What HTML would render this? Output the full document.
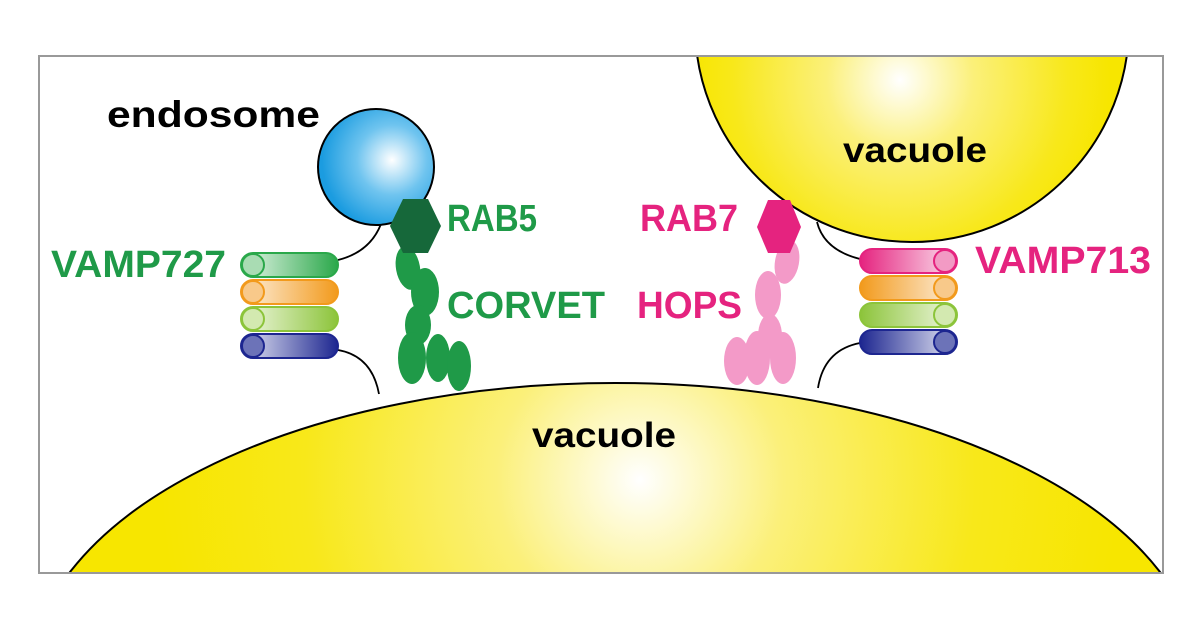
<!DOCTYPE html>
<html><head><meta charset="utf-8"><style>
html,body{margin:0;padding:0;background:#fff;width:1200px;height:630px;overflow:hidden;}
svg{display:block;}
text{font-family:"Liberation Sans",sans-serif;font-weight:bold;}
</style></head><body>
<svg width="1200" height="630" viewBox="0 0 1200 630">
<defs>
<radialGradient id="yb" cx="640" cy="480" r="480" gradientUnits="userSpaceOnUse">
<stop offset="0" stop-color="#ffffff"/><stop offset="0.3" stop-color="#fbf07a"/><stop offset="0.7" stop-color="#f8e81a"/><stop offset="1" stop-color="#f7e600"/></radialGradient>
<radialGradient id="yt" cx="900" cy="80" r="210" gradientUnits="userSpaceOnUse">
<stop offset="0" stop-color="#ffffff"/><stop offset="0.35" stop-color="#fbf07a"/><stop offset="0.8" stop-color="#f8e81a"/><stop offset="1" stop-color="#f7e600"/></radialGradient>
<radialGradient id="bl" cx="392" cy="160" r="70" gradientUnits="userSpaceOnUse">
<stop offset="0" stop-color="#ffffff"/><stop offset="0.5" stop-color="#6fc4ef"/><stop offset="1" stop-color="#1b9ce0"/></radialGradient>
<clipPath id="fr"><rect x="39" y="56" width="1124" height="517"/></clipPath>
<linearGradient id="gG" x1="0" x2="1"><stop offset="0" stop-color="#e8f6ea"/><stop offset="1" stop-color="#2aa84a"/></linearGradient>
<linearGradient id="gO" x1="0" x2="1"><stop offset="0" stop-color="#fdf0df"/><stop offset="1" stop-color="#f29a1c"/></linearGradient>
<linearGradient id="gL" x1="0" x2="1"><stop offset="0" stop-color="#f1f8e4"/><stop offset="1" stop-color="#8cc43a"/></linearGradient>
<linearGradient id="gN" x1="0" x2="1"><stop offset="0" stop-color="#e6e8f5"/><stop offset="1" stop-color="#1d2690"/></linearGradient>
<linearGradient id="gP" x1="1" x2="0"><stop offset="0" stop-color="#fbe3ef"/><stop offset="1" stop-color="#e5237f"/></linearGradient>
<linearGradient id="rO" x1="1" x2="0"><stop offset="0" stop-color="#fdf0df"/><stop offset="1" stop-color="#f29a1c"/></linearGradient>
<linearGradient id="rL" x1="1" x2="0"><stop offset="0" stop-color="#f1f8e4"/><stop offset="1" stop-color="#8cc43a"/></linearGradient>
<linearGradient id="rN" x1="1" x2="0"><stop offset="0" stop-color="#e6e8f5"/><stop offset="1" stop-color="#1d2690"/></linearGradient>
</defs>
<g clip-path="url(#fr)">
<ellipse cx="615" cy="680" rx="585" ry="297" fill="url(#yb)" stroke="#000" stroke-width="2"/>
<circle cx="912" cy="25" r="217" fill="url(#yt)" stroke="#000" stroke-width="2"/>
</g>
<rect x="39" y="56" width="1124" height="517" fill="none" stroke="#999" stroke-width="2"/>
<g fill="none" stroke="#000" stroke-width="1.8">
<path d="M381 224 Q370 252 338 260"/>
<path d="M338 350 Q372 356 379 394"/>
<path d="M817 222 Q824 250 860 259"/>
<path d="M860 343 Q824 350 818 388"/>
</g>
<circle cx="376" cy="167" r="58" fill="url(#bl)" stroke="#000" stroke-width="2"/>
<g stroke-width="2">
<rect x="241" y="253" width="97" height="24" rx="12" fill="url(#gG)" stroke="#2aa84a"/><circle cx="253" cy="265" r="11" fill="#a9dcb3" stroke="#2aa84a"/>
<rect x="241" y="280" width="97" height="24" rx="12" fill="url(#gO)" stroke="#f29a1c"/><circle cx="253" cy="292" r="11" fill="#f8c98a" stroke="#f29a1c"/>
<rect x="241" y="307" width="97" height="24" rx="12" fill="url(#gL)" stroke="#8cc43a"/><circle cx="253" cy="319" r="11" fill="#d3e9b0" stroke="#8cc43a"/>
<rect x="241" y="334" width="97" height="24" rx="12" fill="url(#gN)" stroke="#1d2690"/><circle cx="253" cy="346" r="11" fill="#6c73b8" stroke="#1d2690"/>
</g>
<g stroke-width="2">
<rect x="860" y="249" width="97" height="24" rx="12" fill="url(#gP)" stroke="#e5237f"/><circle cx="945" cy="261" r="11" fill="#f29ac4" stroke="#e5237f"/>
<rect x="860" y="276" width="97" height="24" rx="12" fill="url(#rO)" stroke="#f29a1c"/><circle cx="945" cy="288" r="11" fill="#f8c98a" stroke="#f29a1c"/>
<rect x="860" y="303" width="97" height="24" rx="12" fill="url(#rL)" stroke="#8cc43a"/><circle cx="945" cy="315" r="11" fill="#d3e9b0" stroke="#8cc43a"/>
<rect x="860" y="330" width="97" height="24" rx="12" fill="url(#rN)" stroke="#1d2690"/><circle cx="945" cy="342" r="11" fill="#6c73b8" stroke="#1d2690"/>
</g>
<g fill="#1f9a48">
<ellipse cx="408" cy="268" rx="12" ry="22" transform="rotate(-10 408 268)"/>
<ellipse cx="425" cy="292" rx="14" ry="24"/>
<ellipse cx="418" cy="325" rx="13" ry="20"/>
<ellipse cx="412" cy="358" rx="14" ry="26"/>
<ellipse cx="438" cy="358" rx="12" ry="24"/>
<ellipse cx="459" cy="366" rx="12" ry="25"/>
</g>
<polygon points="390,226 403,199 428,199 441,226 428,253 403,253" fill="#16683a"/>
<g fill="#f39ac8">
<ellipse cx="787" cy="262" rx="12" ry="22" transform="rotate(10 787 262)"/>
<ellipse cx="768" cy="295" rx="13" ry="24"/>
<ellipse cx="770" cy="336" rx="12" ry="22"/>
<ellipse cx="737" cy="361" rx="13" ry="24"/>
<ellipse cx="757" cy="358" rx="13" ry="27"/>
<ellipse cx="783" cy="358" rx="13" ry="26"/>
</g>
<polygon points="757,227 768,200 790,200 801,227 790,253 768,253" fill="#e5237f"/>
<text x="107" y="127" font-size="37" textLength="213" lengthAdjust="spacingAndGlyphs" fill="#000">endosome</text>
<text x="51" y="277" font-size="38" textLength="175" lengthAdjust="spacingAndGlyphs" fill="#1f9a48">VAMP727</text>
<text x="447" y="231" font-size="38" textLength="90" lengthAdjust="spacingAndGlyphs" fill="#1f9a48">RAB5</text>
<text x="447" y="318" font-size="38" textLength="158" lengthAdjust="spacingAndGlyphs" fill="#1f9a48">CORVET</text>
<text x="640" y="231" font-size="38" textLength="98" lengthAdjust="spacingAndGlyphs" fill="#e5237f">RAB7</text>
<text x="637" y="318" font-size="38" textLength="105" lengthAdjust="spacingAndGlyphs" fill="#e5237f">HOPS</text>
<text x="975" y="273" font-size="38" textLength="176" lengthAdjust="spacingAndGlyphs" fill="#e5237f">VAMP713</text>
<text x="843" y="162" font-size="35" textLength="144" lengthAdjust="spacingAndGlyphs" fill="#000">vacuole</text>
<text x="532" y="447" font-size="35" textLength="144" lengthAdjust="spacingAndGlyphs" fill="#000">vacuole</text>
</svg>
</body></html>
